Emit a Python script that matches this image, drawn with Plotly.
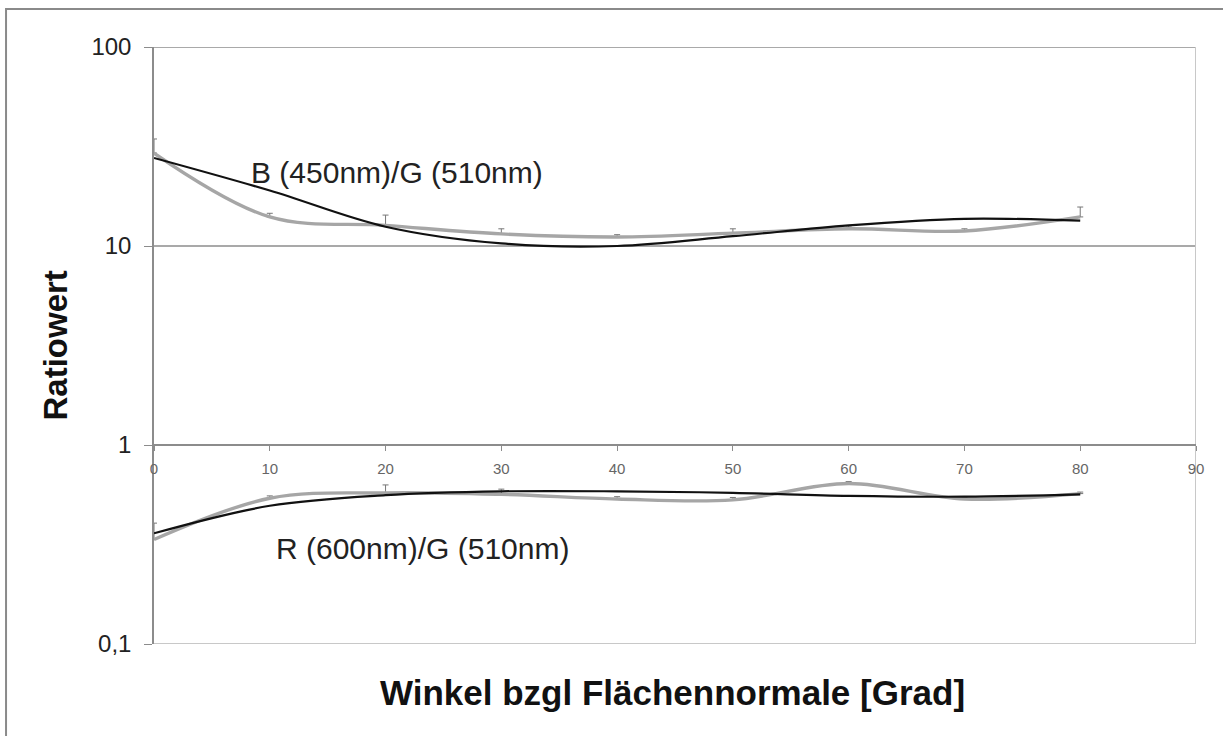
import math
import plotly.graph_objects as go

# Winkel (Grad) der Messpunkte
angles = [0, 10, 20, 30, 40, 50, 60, 70, 80]

# B (450nm)/G (510nm): Messwerte, obere Fehlerbalken, Ausgleichskurve
bg_measured = [29.3, 14.0, 12.7, 11.5, 11.1, 11.6, 12.2, 11.9, 14.0]
bg_err_upper = [5.2, 0.6, 1.6, 0.7, 0.3, 0.6, 0.4, 0.3, 1.7]
bg_fit = [27.7, 19.0, 12.5, 10.3, 10.0, 11.2, 12.7, 13.7, 13.4]

# R (600nm)/G (510nm): Messwerte, obere Fehlerbalken, Ausgleichskurve
rg_measured = [0.335, 0.54, 0.575, 0.565, 0.535, 0.53, 0.64, 0.535, 0.57]
rg_err_upper = [0.07, 0.015, 0.055, 0.035, 0.015, 0.015, 0.015, 0.01, 0.01]
rg_fit = [0.36, 0.495, 0.56, 0.585, 0.585, 0.575, 0.555, 0.55, 0.565]

y_ticks = [0.1, 1, 10, 100]
y_ticktext = ["0,1", "1", "10", "100"]
x_ticks = [0, 10, 20, 30, 40, 50, 60, 70, 80, 90]

FONT = "Liberation Sans, Arial, sans-serif"
GRAY = "#a6a6a6"
BLACK = "#111111"

fig = go.Figure()


def measured(y, err):
    return go.Scatter(
        x=angles, y=y, mode="lines",
        line=dict(color=GRAY, width=3.4, shape="spline", smoothing=1.0),
        error_y=dict(type="data", symmetric=False, array=err,
                     arrayminus=[0] * len(err), color="#777777",
                     thickness=1, width=3),
        showlegend=False, hoverinfo="skip",
    )


def fitted(y):
    return go.Scatter(
        x=angles, y=y, mode="lines",
        line=dict(color=BLACK, width=2.2, shape="spline", smoothing=1.0),
        showlegend=False, hoverinfo="skip",
    )


fig.add_trace(measured(bg_measured, bg_err_upper))
fig.add_trace(fitted(bg_fit))
fig.add_trace(measured(rg_measured, rg_err_upper))
fig.add_trace(fitted(rg_fit))

shapes = []
# horizontale Gitterlinien bei 10 und 100
for yv in (10, 100):
    shapes.append(dict(type="line", xref="x", yref="y", x0=0, x1=90,
                       y0=yv, y1=yv, line=dict(color="#8c8c8c", width=1.5),
                       layer="below"))
# Rahmen der Zeichenfläche (rechts, unten)
shapes.append(dict(type="line", xref="x", yref="y", x0=90, x1=90,
                   y0=0.1, y1=100, line=dict(color="#c8c8c8", width=2),
                   layer="below"))
shapes.append(dict(type="line", xref="x", yref="y", x0=0, x1=90,
                   y0=0.1, y1=0.1, line=dict(color="#c8c8c8", width=2),
                   layer="below"))
# äußerer Diagrammrahmen
shapes.append(dict(type="rect", xref="paper", yref="paper",
                   x0=-0.142, x1=1.2, y0=-0.3, y1=1.0637,
                   line=dict(color="#8a8a8a", width=2), layer="below"))

annotations = [
    dict(text="B (450nm)/G (510nm)", x=8.2, y=math.log10(23.5),
         xref="x", yref="y", xanchor="left", yanchor="middle",
         showarrow=False, font=dict(family=FONT, size=30, color="#222222")),
    dict(text="R (600nm)/G (510nm)", x=10.35, y=-0.518,
         xref="x", yref="y", xanchor="left", yanchor="middle",
         showarrow=False, font=dict(family=FONT, size=30, color="#222222")),
    dict(text="<b>Winkel bzgl Flächennormale [Grad]</b>", x=0.498, y=-0.082,
         xref="paper", yref="paper", xanchor="center", yanchor="middle",
         showarrow=False, font=dict(family=FONT, size=35, color="#111111")),
    dict(text="<b>Ratiowert</b>", x=-0.095, y=0.5, textangle=-90,
         xref="paper", yref="paper", xanchor="center", yanchor="middle",
         showarrow=False, font=dict(family=FONT, size=33, color="#111111")),
]

fig.update_layout(
    width=1223, height=736, autosize=False,
    margin=dict(l=154, r=27, t=47, b=92),
    paper_bgcolor="white", plot_bgcolor="white",
    shapes=shapes, annotations=annotations,
    xaxis=dict(range=[0, 90], anchor="free", position=1 / 3,
               tickvals=x_ticks, ticks="outside", ticklen=5,
               tickcolor="#8c8c8c", showline=True, linecolor="#8c8c8c",
               linewidth=1.5, showgrid=False, zeroline=False,
               ticklabelstandoff=5,
               tickfont=dict(family=FONT, size=15, color="#666666")),
    yaxis=dict(type="log", range=[-1, 2], tickvals=y_ticks,
               ticktext=y_ticktext, ticks="outside", ticklen=8,
               tickcolor="#8c8c8c", showline=True, linecolor="#8c8c8c",
               linewidth=1.5, showgrid=False, zeroline=False,
               ticklabelstandoff=8,
               tickfont=dict(family=FONT, size=24, color="#222222")),
)

fig.write_html("out.html")
